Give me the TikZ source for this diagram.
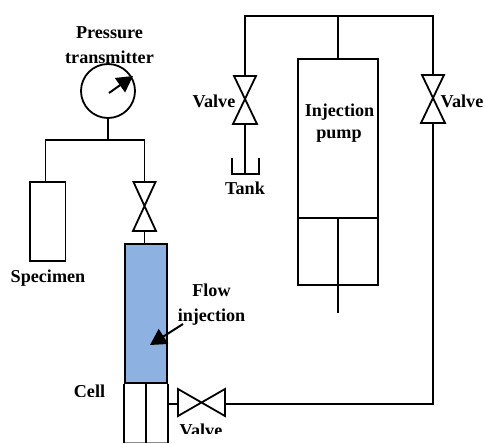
\documentclass[tikz,border=0pt]{standalone}
\usepackage{fontspec}
\setmainfont{Liberation Serif}
\usetikzlibrary{arrows.meta}
\tikzset{
  lbl/.style={font=\fontsize{13.6}{15}\selectfont\bfseries,inner sep=0pt,text=black,anchor=base},
  ln/.style={draw=black,line width=1.35pt},
  pointer/.style={draw=black,line width=1.5pt,-{Triangle[length=12pt,width=13pt]}},
}
\begin{document}
\begin{tikzpicture}[x=0.75pt,y=-0.75pt]
\useasboundingbox (0,0) rectangle (485,443);
% gauge
\node[ln,circle,minimum size=40.5pt,inner sep=0pt] (gauge) at (108,91) {};
\draw[pointer] (109,93) -- (133,76);
\coordinate (jA) at (109.5,140);
\draw[ln] (gauge.south) -- (gauge.south |- jA);
\coordinate (spT) at (45.5,182);
\node[ln,rectangle,minimum width=26.5pt,minimum height=59.5pt,inner sep=0pt] (spec) at (47.8,221.5) {};
\coordinate (v1t) at (144.5,182);
\coordinate (v1b) at (144.5,231);
\draw[ln] (spT) -- (spT |- jA) -- (v1t |- jA) -- (v1t);
\draw[ln,line join=miter] (133.5,182) -- (155.5,182) -- (133,231) -- (156,231) -- cycle;
% cell
\node[ln,rectangle,fill={rgb,255:red,141;green,178;blue,226},minimum width=31.5pt,minimum height=104.2pt,inner sep=0pt] (cell) at (146,313.5) {};
\coordinate (cB) at (146,442.5);
\draw[draw=black!45,line width=0.8pt] (cell.south west |- cB) -- (cell.south east |- cB);
\draw[ln] (cell.south west) -- (cell.south west |- cB) (cell.south east) -- (cell.south east |- cB) (cell.south) -- (cB);
\draw[ln] (v1b) -- (cell.north -| v1b);
\draw[pointer] (183,324) -- (150,345);
% bottom valve
\coordinate (v2l) at (178,404);
\coordinate (v2r) at (225,404);
\coordinate (cellR) at (167,404);
\draw[ln] (178,389) -- (225,416) -- (225,389) -- (178,416) -- cycle;
\draw[ln] (cellR) -- (v2l);
% right line
\coordinate (v3t) at (433,75);
\coordinate (v3b) at (433,123);
\coordinate (top) at (433,16);
\draw[ln] (v2r) -- (v3b |- v2r) -- (v3b);
\draw[ln] (422,75) -- (444,75) -- (421,123) -- (445,123) -- cycle;
% top
\coordinate (v4t) at (245,76);
\coordinate (v4b) at (245,124);
\coordinate (tankB) at (245,174);
\draw[ln] (v3t) -- (top) -- (top -| v4t) -- (v4t);
\draw[ln] (234,76) -- (256,76) -- (233,124) -- (257,124) -- cycle;
\draw[ln] (v4b) -- (tankB);
\draw[ln] (232,158) -- (232,174) -- (259,174) -- (259,158);
% pump
\node[ln,rectangle,minimum width=60pt,minimum height=169.6pt,inner sep=0pt] (pump) at (338,172.2) {};
\draw[ln] (pump.north) -- (pump.north |- top);
\coordinate (pL) at (298,218);
\coordinate (pR) at (378,218);
\coordinate (rodT) at (338,218);
\coordinate (rodB) at (338,313);
\draw[ln] (pL) -- (pR);
\draw[ln] (rodT) -- (rodB);
% labels
\node[lbl] (tp) at (109.5,38) {Pressure};
\node[lbl] (tt) at (109.5,63) {transmitter};
\node[lbl] (tv1) at (214,107) {Valve};
\node[lbl] (tk) at (245,194) {Tank};
\node[lbl] (ti) at (339.5,116) {Injection};
\node[lbl] (tu) at (339,138) {pump};
\node[lbl] (tv2) at (462,107) {Valve};
\node[lbl] (ts) at (48,282) {Specimen};
\node[lbl] (tf) at (211.5,296) {Flow};
\node[lbl] (tj) at (211.5,321) {injection};
\begin{scope}
\clip (60,380) rectangle (120,396.7);
\node[lbl] (tc) at (89.5,397) {Cell};
\end{scope}
\begin{scope}
\clip (170,420) rectangle (235,433.5);
\node[lbl] (tv3) at (201,436) {Valve};
\end{scope}
\end{tikzpicture}
\end{document}
